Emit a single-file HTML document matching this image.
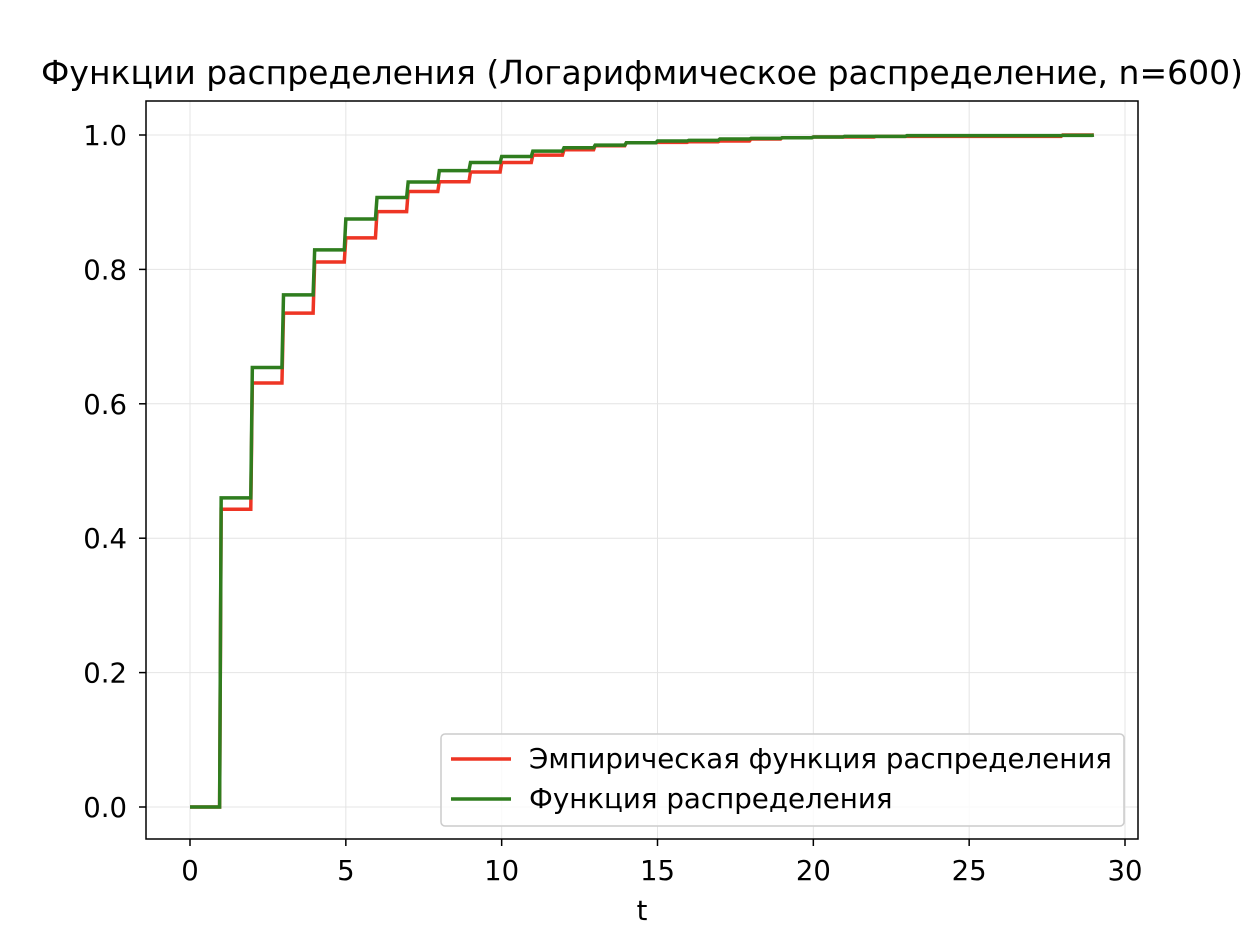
<!DOCTYPE html>
<html><head><meta charset="utf-8"><style>
body{margin:0;background:#fff;}
svg text{font-family:"DejaVu Sans","Liberation Sans",sans-serif;fill:#000;}
</style></head><body>
<svg id="chart" width="1258" height="938" viewBox="0 0 1258 938">
<text x="642" y="84" font-size="33" text-anchor="middle">Функции распределения (Логарифмическое распределение, n=600)</text>
<g id="grid"></g>
<g id="series"></g>
<rect x="146" y="101" width="992" height="738" fill="none" stroke="#000" stroke-width="1.5"/>
<g id="ticks"></g>
<text x="642" y="920" font-size="27.5" text-anchor="middle">t</text>
<g>
<rect x="441" y="734" width="683" height="92" rx="4" fill="#fff" fill-opacity="0.8" stroke="#ccc" stroke-width="1.5"/>
<line x1="451" y1="759" x2="511" y2="759" stroke="#ee3524" stroke-width="3.5"/>
<text x="529" y="768" font-size="27.7">Эмпирическая функция распределения</text>
<line x1="451" y1="799" x2="511" y2="799" stroke="#2f7d1e" stroke-width="3.5"/>
<text x="529" y="808" font-size="27.7">Функция распределения</text>
</g>
</svg>
<script>
const tValues=[0,1,2,3,4,5,6,7,8,9,10,11,12,13,14,15,16,17,18,19,20,21,22,23,24,25,26,27,28,29];
const empirical=[0,0.443,0.631,0.735,0.811,0.847,0.886,0.916,0.9305,0.945,0.959,0.970,0.978,0.984,0.9885,0.989,0.990,0.991,0.994,0.996,0.997,0.997,0.998,0.998,0.998,0.998,0.998,0.998,1.0,1.0];
const theoretical=[0,0.460,0.654,0.762,0.829,0.875,0.907,0.930,0.947,0.959,0.968,0.976,0.981,0.985,0.9885,0.991,0.992,0.994,0.995,0.996,0.997,0.998,0.998,0.999,0.999,0.999,0.999,0.999,0.9995,1.0];
const xTicks=[0,5,10,15,20,25,30];
const yTicks=[0,0.2,0.4,0.6,0.8,1.0];
const xs=t=>190+t*(1125-190)/30;
const ys=v=>807-v*672;
const NS="http://www.w3.org/2000/svg";
const grid=document.getElementById('grid'),ticks=document.getElementById('ticks'),series=document.getElementById('series');
function mk(tag,attrs,parent){const e=document.createElementNS(NS,tag);for(const k in attrs)e.setAttribute(k,attrs[k]);parent.appendChild(e);return e;}
xTicks.forEach(t=>{
 const x=xs(t);
 const g=mk('line',{x1:x,x2:x,y1:101,y2:839,stroke:'#e4e4e4','stroke-width':1},grid);
 
 
 const tk=mk('line',{x1:x,x2:x,y1:839,y2:846,stroke:'#000','stroke-width':1.5},ticks);
 
 
 const tx=mk('text',{x:x,y:880,'font-size':27.5,'text-anchor':'middle'},ticks);tx.textContent=t;
 
 
});
yTicks.forEach(v=>{
 const y=ys(v);
 const g=mk('line',{x1:146,x2:1138,y1:y,y2:y,stroke:'#e4e4e4','stroke-width':1},grid);
 
 
 const tk=mk('line',{x1:139,x2:146,y1:y,y2:y,stroke:'#000','stroke-width':1.5},ticks);
 
 
 const tx=mk('text',{x:127,y:y+10,'font-size':27.5,'text-anchor':'end'},ticks);tx.textContent=v.toFixed(1);
 
 
});
function stepPath(vals){
 let d='M'+xs(tValues[0])+','+ys(vals[0]);
 for(let i=1;i<tValues.length;i++){
  d+=' L'+xs(tValues[i]-0.05)+','+ys(vals[i-1])+' L'+xs(tValues[i])+','+ys(vals[i]);
 }
 return d;
}
const p1=mk('path',{d:stepPath(empirical),fill:'none',stroke:'#ee3524','stroke-width':3.5,'stroke-linejoin':'miter'},series);


const p2=mk('path',{d:stepPath(theoretical),fill:'none',stroke:'#2f7d1e','stroke-width':3.5,'stroke-linejoin':'miter'},series);


</script>
</body></html>
